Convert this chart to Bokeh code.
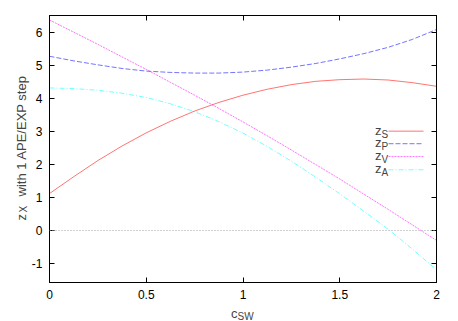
import math
from bokeh.plotting import figure
from bokeh.models import Range1d, LinearAxis, FixedTicker, Span, Label
from bokeh.embed import file_html
from bokeh.resources import INLINE

# ---- data ----
c_sw = [0.0, 0.125, 0.25, 0.375, 0.5, 0.625, 0.75, 0.875, 1.0,
        1.125, 1.25, 1.375, 1.5, 1.625, 1.75, 1.875, 2.0]
z_S = [1.12, 1.63, 2.12, 2.56, 2.96, 3.31, 3.62, 3.88, 4.10,
       4.28, 4.42, 4.52, 4.57, 4.59, 4.56, 4.48, 4.37]
z_P = [5.28, 5.14, 5.02, 4.91, 4.83, 4.79, 4.77, 4.77, 4.80,
       4.86, 4.95, 5.06, 5.20, 5.36, 5.55, 5.79, 6.09]
z_V = [6.38, 6.01, 5.64, 5.26, 4.88, 4.49, 4.10, 3.70, 3.29,
       2.87, 2.44, 2.00, 1.56, 1.10, 0.64, 0.17, -0.30]
z_A = [4.32, 4.30, 4.25, 4.16, 4.03, 3.84, 3.60, 3.30, 2.95,
       2.55, 2.10, 1.62, 1.11, 0.58, 0.04, -0.56, -1.19]

x_ticks = [0, 0.5, 1, 1.5, 2]
x_tick_labels = ["0", "0.5", "1", "1.5", "2"]
y_ticks = [-1, 0, 1, 2, 3, 4, 5, 6]
y_tick_labels = ["-1", "0", "1", "2", "3", "4", "5", "6"]

series_names = ["S", "P", "V", "A"]
series_values = [z_S, z_P, z_V, z_A]
series_colors = ["#ff0000", "#0000ff", "#ff00ff", "#00ffff"]
series_dash = ["solid", "5 2", "2 1", "5 2 1 2"]

FONT = "Liberation Sans"

p = figure(width=458, height=321, output_backend="svg", toolbar_location=None,
           x_range=Range1d(0, 2), y_range=Range1d(-1.576, 6.515),
           min_border_left=49, min_border_right=22, min_border_top=15,
           min_border_bottom=39)
p.xgrid.visible = False
p.ygrid.visible = False
p.outline_line_color = "black"
p.outline_line_width = 1
p.background_fill_color = "white"
p.border_fill_color = "white"

def style_axis(ax, ticks, labels, show_labels):
    ax.ticker = FixedTicker(ticks=ticks)
    ax.major_label_overrides = {t: l for t, l in zip(ticks, labels)}
    ax.major_tick_in = 5
    ax.major_tick_out = 0
    ax.minor_tick_line_color = None
    ax.major_tick_line_color = "black"
    ax.axis_line_color = "black"
    ax.major_label_text_font = FONT
    ax.major_label_text_color = "black"
    if show_labels:
        ax.major_label_text_font_size = "12px"
        ax.major_label_standoff = 7
    else:
        ax.major_label_text_font_size = "0px"
        ax.major_label_standoff = 0

style_axis(p.xaxis[0], x_ticks, x_tick_labels, True)
style_axis(p.yaxis[0], y_ticks, y_tick_labels, True)
ax_top = LinearAxis()
style_axis(ax_top, x_ticks, ["" for _ in x_ticks], False)
p.add_layout(ax_top, "above")
ax_right = LinearAxis()
style_axis(ax_right, y_ticks, ["" for _ in y_ticks], False)
p.add_layout(ax_right, "right")

# zero line
p.add_layout(Span(location=0, dimension="width", line_color="#a0a0a0",
                  line_dash="1 2", line_width=1))

for vals, col, dash in zip(series_values, series_colors, series_dash):
    p.line(c_sw, vals, line_color=col, line_width=1, line_dash=dash, line_alpha=0.55)

# ---- legend (drawn by hand so the names can carry subscripts) ----
leg_x0, leg_x1 = 1.752, 1.933
leg_rows = [3.01, 2.63, 2.24, 1.84]
for name, col, dash, yr in zip(series_names, series_colors, series_dash, leg_rows):
    p.line([leg_x0, leg_x1], [yr, yr], line_color=col, line_width=1,
           line_dash=dash, line_alpha=0.55)
    p.add_layout(Label(x=1.716, y=yr, text="z", text_font=FONT, text_font_size="13px",
                       text_align="right", text_baseline="middle", y_offset=1))
    p.add_layout(Label(x=1.716, y=yr, text=name, text_font=FONT, text_font_size="10px",
                       text_align="left", text_baseline="middle", y_offset=-3))

# ---- axis titles with subscripts (in side panels so they are not clipped;
#      panels chosen so that the frame keeps its place) ----
p.add_layout(Label(x=0.972, y=-2.53, text="c", text_font=FONT, text_font_size="13px",
                   text_align="right", text_baseline="alphabetic"), "right")
p.add_layout(Label(x=0.972, y=-2.61, text="SW", text_font=FONT, text_font_size="10px",
                   text_align="left", text_baseline="alphabetic"), "below")

p.add_layout(Label(x=-0.147, y=0.303, text="z", text_font=FONT, text_font_size="13px",
                   angle=math.pi / 2, text_align="left", text_baseline="alphabetic"), "above")
p.add_layout(Label(x=-0.132, y=0.545, text="X", text_font=FONT, text_font_size="10px",
                   angle=math.pi / 2, text_align="left", text_baseline="alphabetic"), "right")
p.add_layout(Label(x=-0.147, y=1.03, text="with 1 APE/EXP step", text_font=FONT,
                   text_font_size="13px", angle=math.pi / 2, text_align="left",
                   text_baseline="alphabetic"), "left")

open("out.html", "w").write(file_html(p, INLINE))
